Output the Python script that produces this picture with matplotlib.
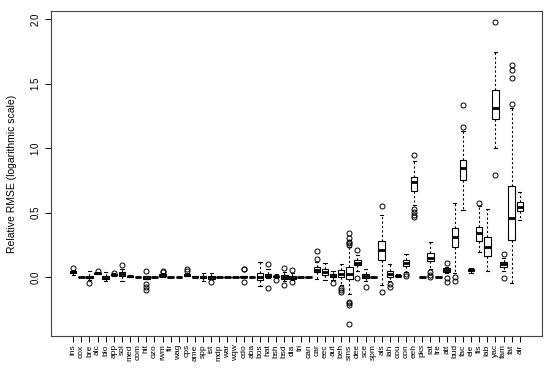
import matplotlib
matplotlib.use("Agg")
import matplotlib.pyplot as plt

plt.rcParams['font.family'] = ['Liberation Sans', 'DejaVu Sans']

labels = ['ins', 'cox', 'bre', 'alc', 'blo', 'app', 'sol', 'med', 'com', 'hit',
          'ozo', 'rwm', 'fir', 'wag', 'cps', 'ame', 'spp', 'ist', 'mdp', 'war',
          'wqw', 'cdo', 'aba', 'bos', 'hat', 'bsh', 'bsd', 'dia', 'tri', 'can',
          'car', 'eec', 'aut', 'beh', 'sms', 'dee', 'sce', 'spm', 'ais', 'lah',
          'cou', 'con', 'eeh', 'pks', 'rat', 'tre', 'att', 'bud', 'fac', 'ele',
          'fis', 'lab', 'yac', 'fam', 'fat', 'air']

whisker_lo = [0.015, 0, -0.02, 0.02, -0.03, 0.005, -0.03, -0.003, 0, -0.018,
              0, 0.0, 0, 0, 0.005, -0.005, -0.03, -0.013, 0, 0,
              0, -0.005, 0, -0.07, -0.01, -0.005, -0.03, -0.025, 0, -0.003,
              -0.015, -0.02, -0.02, -0.06, -0.134, 0.05, -0.03, 0, -0.06, -0.03,
              0.0, 0.04, 0.556, 0, 0.06, 0, 0.03, 0.03, 0.52, 0.035,
              0.191, 0.049, 0.997, 0.045, -0.049, 0.442]
q1 = [0.03, 0, -0.01, 0.025, -0.015, 0.012, 0.01, 0.002, 0, -0.018,
      0, 0.005, 0, 0, 0.01, 0.0, -0.005, -0.013, 0, 0,
      0, 0.0, 0, -0.02, -0.003, 0.0, -0.013, -0.018, 0, -0.002,
      0.039, 0.013, -0.002, -0.003, -0.018, 0.09, -0.005, 0, 0.129, -0.003,
      0.005, 0.085, 0.669, 0, 0.122, 0, 0.036, 0.23, 0.752, 0.045,
      0.277, 0.163, 1.222, 0.08, 0.287, 0.514]
median = [0.04, 0, 0.0, 0.03, -0.005, 0.018, 0.025, 0.005, 0, -0.005,
          0, 0.01, 0, 0, 0.015, 0.003, 0.0, 0.0, 0, 0,
          0, 0.002, 0, 0.0, 0.01, 0.005, 0.002, -0.005, 0, 0.0,
          0.055, 0.04, 0.01, 0.02, 0.02, 0.11, 0.007, 0, 0.209, 0.021,
          0.01, 0.109, 0.739, 0, 0.15, 0, 0.052, 0.313, 0.843, 0.054,
          0.339, 0.23, 1.313, 0.098, 0.455, 0.545]
q3 = [0.05, 0, 0.01, 0.035, 0.005, 0.025, 0.04, 0.008, 0, 0.008,
      0, 0.02, 0, 0, 0.02, 0.005, 0.005, 0.008, 0, 0,
      0, 0.005, 0, 0.033, 0.025, 0.01, 0.018, 0.005, 0, 0.002,
      0.075, 0.065, 0.023, 0.054, 0.075, 0.132, 0.023, 0, 0.279, 0.044,
      0.015, 0.132, 0.778, 0, 0.184, 0, 0.067, 0.377, 0.907, 0.06,
      0.39, 0.313, 1.45, 0.114, 0.705, 0.581]
whisker_hi = [0.055, 0, 0.045, 0.04, 0.04, 0.03, 0.06, 0.015, 0, 0.008,
              0, 0.03, 0, 0, 0.03, 0.01, 0.03, 0.035, 0, 0,
              0, 0.01, 0, 0.12, 0.06, 0.025, 0.04, 0.03, 0, 0.003,
              0.12, 0.105, 0.05, 0.1, 0.235, 0.17, 0.06, 0, 0.48, 0.098,
              0.02, 0.178, 0.9, 0, 0.271, 0, 0.08, 0.576, 1.13, 0.07,
              0.55, 0.53, 1.742, 0.15, 1.31, 0.661]
outliers = [[0.07], [], [-0.045], [0.047], [], [0.035], [0.093], [], [], [0.05, -0.055, -0.075, -0.1],
            [], [0.04, 0.05], [], [], [0.05, 0.06], [], [], [-0.04], [], [],
            [], [0.06, 0.065, -0.035], [], [], [0.1, -0.085], [-0.02], [0.07, -0.065], [0.057, -0.04], [], [],
            [0.137, 0.2], [], [-0.049], [-0.083, -0.1, -0.116],
            [0.34, 0.3, 0.27, 0.26, 0.25, -0.19, -0.2, -0.215, -0.367],
            [0.207, -0.005], [-0.075], [], [0.55, -0.114], [-0.054, -0.075],
            [], [0.023, 0.005], [0.946, 0.525, 0.504, 0.483, 0.467], [], [0.036, 0.018, -0.002], [],
            [0.111, -0.01, -0.036], [0.002, -0.031], [1.16, 1.333], [],
            [0.576], [], [1.977, 0.791], [0.178, -0.005], [1.341, 1.54, 1.605, 1.641], []]

stats = []
for i in range(len(labels)):
    stats.append({'label': labels[i], 'whislo': whisker_lo[i], 'q1': q1[i], 'med': median[i],
                  'q3': q3[i], 'whishi': whisker_hi[i], 'fliers': outliers[i]})

fig = plt.figure(figsize=(5.5, 3.71), dpi=100)
ax = fig.add_axes([51 / 550, 1 - 336 / 371, 491 / 550, 325 / 371])

ax.bxp(stats, widths=0.8, capwidths=0.4, patch_artist=True,
       boxprops=dict(facecolor='white', edgecolor='black', linewidth=0.8),
       medianprops=dict(color='black', linewidth=2, solid_capstyle='butt'),
       whiskerprops=dict(color='black', linewidth=0.8, linestyle=(0, (2, 2))),
       capprops=dict(color='black', linewidth=0.8),
       flierprops=dict(marker='o', markerfacecolor='none', markeredgecolor='black',
                       markersize=3.6, markeredgewidth=0.7))

n = len(labels)
ax.set_xlim(0.5 - 0.04 * n, n + 0.5 + 0.04 * n)
ax.set_ylim(-0.457, 2.062)
ax.set_yticks([0.0, 0.5, 1.0, 1.5, 2.0])
ax.set_yticklabels(['0.0', '0.5', '1.0', '1.5', '2.0'], rotation=90, va='center')
ax.set_xticks(range(1, n + 1))
ax.set_xticklabels(labels, rotation=90)
ax.tick_params(labelsize=7, length=4, width=0.7, color='black')
ax.tick_params(axis='x', labelsize=6, pad=2)
ax.set_ylabel('Relative RMSE (logarithmic scale)', fontsize=7.5, labelpad=10)
for s in ax.spines.values():
    s.set_linewidth(0.8)
    s.set_color('#444444')

fig.savefig('out.png', dpi=100)
